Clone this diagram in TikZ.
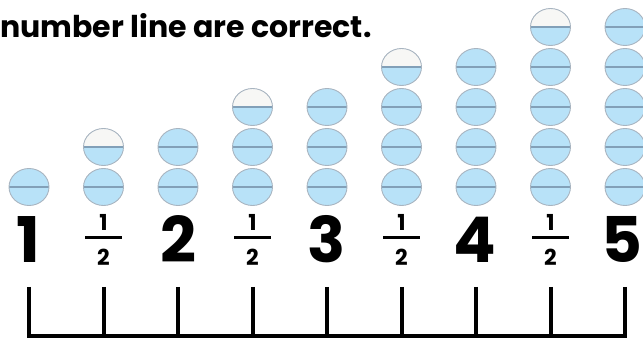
\documentclass[tikz,border=0pt]{standalone}
\usepackage{fontspec}
\newfontfamily\pop{Poppins}
\definecolor{pillblue}{RGB}{184,226,248}
\definecolor{pilledge}{RGB}{168,180,192}
\definecolor{pillmid}{RGB}{130,160,184}
\definecolor{pillwhite}{RGB}{247,247,245}
\newcommand\fullpill[2]{%
  \fill[pillblue] ({#1},{#2}) ellipse [x radius=20, y radius=18.5];
  \draw[pillmid, line width=1.3] ({#1-20},{#2}) -- ({#1+20},{#2});
  \draw[pilledge, line width=0.9] ({#1},{#2}) ellipse [x radius=20, y radius=18.5];}
\newcommand\halfpill[2]{%
  \fill[pillblue] ({#1},{#2}) ellipse [x radius=20, y radius=18.5];
  \begin{scope}
    \clip ({#1-21},{#2-20}) rectangle ({#1+21},{#2});
    \fill[pillwhite] ({#1},{#2}) ellipse [x radius=20, y radius=18.5];
  \end{scope}
  \draw[pillmid, line width=1.3] ({#1-20},{#2}) -- ({#1+20},{#2});
  \draw[pilledge, line width=0.9] ({#1},{#2}) ellipse [x radius=20, y radius=18.5];}
\begin{document}
\begin{tikzpicture}[x=1pt,y=-1pt,
  bignum/.style={font=\pop\bfseries\fontsize{63}{63}\selectfont, inner sep=0pt, anchor=base},
  fracnum/.style={font=\pop\bfseries\fontsize{22}{22}\selectfont, inner sep=0pt, anchor=base},
  title/.style={font=\pop\bfseries\fontsize{30}{30}\selectfont, inner sep=0pt, anchor=base west},
  tickline/.style={line width=4pt, black},
  fracbar/.style={line width=2.5pt, black}]
\useasboundingbox (0,0) rectangle (643,339);
\clip (0,0) rectangle (643,339);

\node[title] (title) at (0,38) {number line are correct.};

% pill stacks: column x, number of full pills, has half on top
\foreach \x/\n/\h in {29/1/0, 103.5/1/1, 178/2/0, 252.5/2/1, 327/3/0, 401.5/3/1, 476/4/0, 550.5/4/1, 625/5/0}{
  \foreach \k in {1,...,\n}{
    \pgfmathsetmacro\py{187-40*(\k-1)}
    \fullpill{\x}{\py}
  }
  \ifnum\h=1
    \pgfmathsetmacro\py{187-40*\n}
    \halfpill{\x}{\py}
  \fi
}

% whole numbers
\node[bignum] (n1) at (28,263) {1};
\node[bignum] (n2) at (178,263) {2};
\node[bignum] (n3) at (327,263) {3};
\node[bignum] (n4) at (475,263) {4};
\node[bignum] (n5) at (622,263) {5};

% halves
\foreach \x [count=\i] in {103.5, 252.5, 401.5, 550.5}{
  \node[fracnum] (fn\i) at (\x,231) {1};
  \node[fracnum] (fd\i) at (\x,265.5) {2};
  \coordinate (fl\i) at ({\x-18.5},237.7);
  \coordinate (fr\i) at ({\x+18.5},237.7);
  \draw[fracbar] (fl\i) -- (fr\i);
}

% number line
\foreach \x [count=\i] in {29, 103.5, 178, 252.5, 327, 401.5, 476, 550.5, 625}{
  \coordinate (t\i) at (\x,287);
  \coordinate (b\i) at (\x,338);
  \draw[tickline] (t\i) -- (b\i);
}
\coordinate (lineL) at (27,336);
\coordinate (lineR) at (627,336);
\draw[tickline] (lineL) -- (lineR);
\end{tikzpicture}
\end{document}
